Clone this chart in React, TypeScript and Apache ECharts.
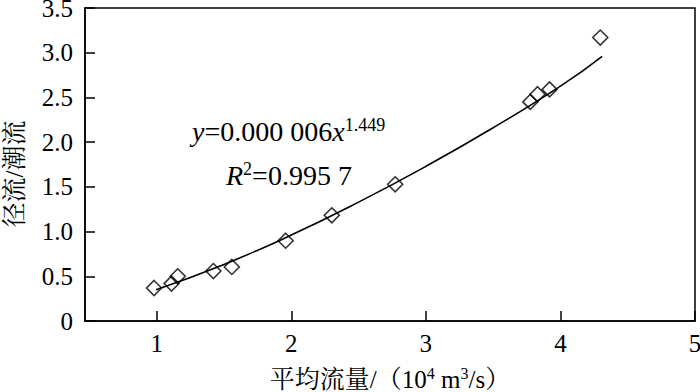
import React, { useEffect, useRef } from "react";
import * as echarts from "echarts";

const flowX = [0.98, 1.11, 1.156, 1.421, 1.558, 1.958, 2.301, 2.772, 3.776, 3.83, 3.919, 4.296];
const ratioY = [0.369, 0.418, 0.5, 0.559, 0.604, 0.898, 1.182, 1.529, 2.45, 2.536, 2.59, 3.17];
const fitX = [0.995, 1.5, 2.0, 2.5, 3.0, 3.5, 4.0, 4.31];
const fitY = [0.35, 0.633, 0.961, 1.329, 1.729, 2.161, 2.626, 2.96];
const xTicks = [1, 2, 3, 4, 5];

const FONT = "'Liberation Serif', 'Noto Serif CJK SC', 'Noto Sans CJK SC', serif";

export default function App() {
  const ref = useRef<HTMLDivElement>(null);
  useEffect(() => {
    if (!ref.current) return;
    const chart = echarts.init(ref.current, null, { renderer: "svg" });
    const sup = { fontSize: 16, fontFamily: FONT, color: "#000", padding: [0, 0, 12, 0] };
    chart.setOption({
      animation: false,
      backgroundColor: "#fff",
      grid: {
        left: 85, right: 5, top: 8, bottom: 71,
        containLabel: false,
        outerBoundsMode: "none",
        show: true, borderColor: "#000", borderWidth: 1.5,
      },
      xAxis: {
        type: "value",
        min: 0.467,
        max: 5,
        name: "平均流量/（10{sup|4} m{sup|3}/s）",
        nameLocation: "middle",
        nameGap: 44,
        nameTextStyle: {
          fontSize: 25, fontFamily: FONT, color: "#000",
          rich: { sup },
        },
        axisLine: { show: true, lineStyle: { color: "#000", width: 1.5 } },
        axisTick: { show: true, inside: true, length: 10, customValues: xTicks, lineStyle: { color: "#000", width: 1.5 } },
        axisLabel: {
          customValues: xTicks, margin: 10, fontSize: 25, fontFamily: FONT, color: "#000",
        },
        splitLine: { show: false },
      },
      yAxis: {
        type: "value",
        min: 0,
        max: 3.5,
        interval: 0.5,
        axisLine: { show: true, lineStyle: { color: "#000", width: 1.5 } },
        axisTick: { show: true, inside: true, length: 10, lineStyle: { color: "#000", width: 1.5 } },
        axisLabel: {
          margin: 12, fontSize: 25, fontFamily: FONT, color: "#000",
          formatter: (v: number) => (v === 0 ? "0" : v.toFixed(1)),
        },
        splitLine: { show: false },
      },
      series: [
        {
          type: "scatter",
          data: flowX.map((x, i) => [x, ratioY[i]]),
          symbol: "diamond",
          symbolSize: [15, 15],
          itemStyle: { color: "rgba(0,0,0,0)", borderColor: "#000", borderWidth: 1.6 },
          z: 2,
        },
        {
          type: "line",
          data: fitX.map((x, i) => [x, fitY[i]]),
          smooth: true,
          showSymbol: false,
          lineStyle: { color: "#000", width: 1.6 },
          z: 3,
        },
      ],
      graphic: [
        {
          type: "text",
          x: 14,
          y: 174,
          rotation: Math.PI / 2,
          style: {
            text: "径流/潮流",
            fontSize: 25,
            fontFamily: FONT,
            fill: "#000",
            align: "center",
            verticalAlign: "middle",
          },
        },
        {
          type: "text",
          x: 192,
          y: 116,
          style: {
            text: "{i|y}=0.000 006{i|x}{sup|1.449}",
            fontSize: 28,
            fontFamily: FONT,
            fill: "#000",
            rich: {
              i: { fontSize: 28, fontStyle: "italic", fontFamily: FONT, color: "#000" },
              sup: { fontSize: 18, fontFamily: FONT, color: "#000", padding: [0, 0, 14, 0] },
            },
          },
        },
        {
          type: "text",
          x: 226,
          y: 160,
          style: {
            text: "{i|R}{sup|2}=0.995 7",
            fontSize: 28,
            fontFamily: FONT,
            fill: "#000",
            rich: {
              i: { fontSize: 28, fontStyle: "italic", fontFamily: FONT, color: "#000" },
              sup: { fontSize: 18, fontFamily: FONT, color: "#000", padding: [0, 0, 14, 0] },
            },
          },
        },
      ],
    });
    return () => chart.dispose();
  }, []);
  return <div ref={ref} style={{ width: 700, height: 392, position: "absolute", left: 0, top: 0 }} />;
}
